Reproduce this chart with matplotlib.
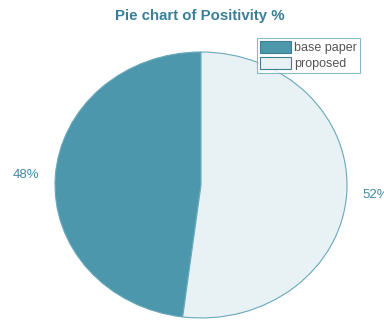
import numpy as np
import matplotlib.pyplot as plt
from matplotlib.patches import Patch

labels = ['base paper', 'proposed']
values = [48, 52]
colors = ['#4d97ad', '#e8f1f4']

fig = plt.figure(figsize=(3.84, 3.2), dpi=100)
ax = fig.add_axes([55 / 384, 2 / 320, 292 / 384, 266 / 320])

wedges, texts = ax.pie(values, colors=colors, startangle=90, counterclock=True,
                       wedgeprops=dict(edgecolor='#6aa8bb', linewidth=0.8))
ax.set_aspect('auto')
ax.set_xlim(-1, 1)
ax.set_ylim(-1, 1)

# percentage labels outside the pie
for w, v in zip(wedges, values):
    ang = np.deg2rad((w.theta1 + w.theta2) / 2)
    ax.text(1.2 * np.cos(ang), 1.2 * np.sin(ang), f'{v}%', ha='center', va='center',
            fontsize=9.5, color='#3f8aa3', family='Liberation Sans', clip_on=False)

fig.text(0.52, 0.95, 'Pie chart of Positivity %', ha='center', va='center',
         fontsize=10.8, fontweight='bold', color='#3a7f97', family='Liberation Sans')

handles = [Patch(facecolor=c, edgecolor='#3f7f96', linewidth=0.8) for c in colors]
leg = fig.legend(handles, labels, loc='upper left', bbox_to_anchor=(257 / 384, 1 - 38 / 320),
                 frameon=True, fancybox=False, handlelength=2.5, handleheight=1.1,
                 handletextpad=0.2, labelspacing=0.2, borderpad=0.25, borderaxespad=0,
                 prop={'family': 'Liberation Sans', 'size': 9})
leg.get_frame().set_edgecolor('#6aa8bb')
leg.get_frame().set_linewidth(0.8)
for t in leg.get_texts():
    t.set_color('#555555')

fig.savefig('out.png', dpi=100)
